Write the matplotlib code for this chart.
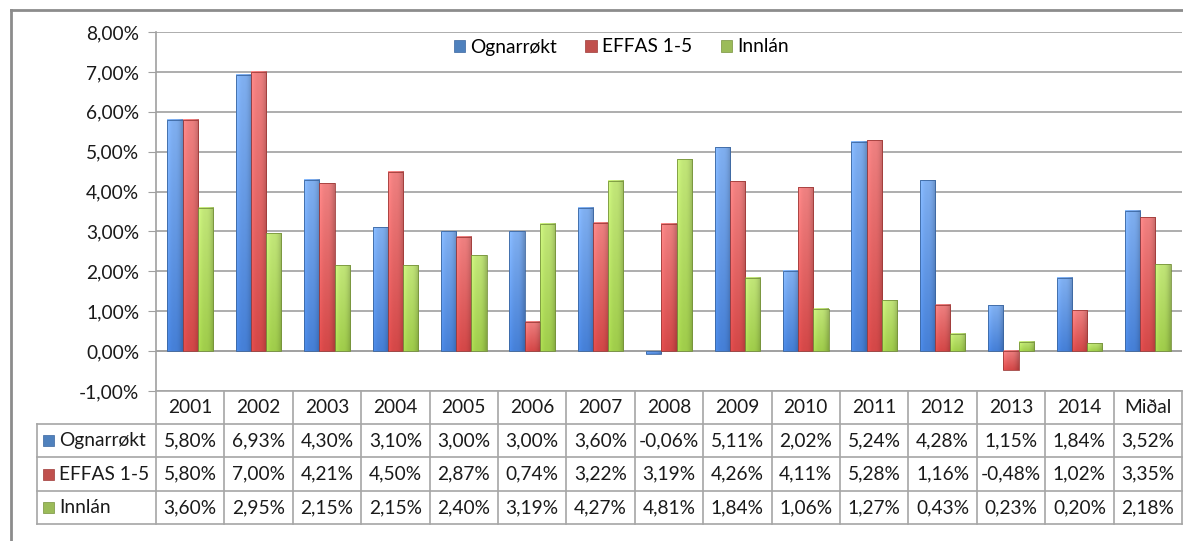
import numpy as np
import matplotlib.pyplot as plt
from matplotlib.lines import Line2D
from matplotlib.patches import Patch, Rectangle
from matplotlib.ticker import FuncFormatter
from matplotlib.transforms import blended_transform_factory

plt.rcParams['font.family'] = ['Lato', 'DejaVu Sans']

categories = ['2001', '2002', '2003', '2004', '2005', '2006', '2007', '2008',
              '2009', '2010', '2011', '2012', '2013', '2014', 'Miðal']
series_names = ['Ognarrøkt', 'EFFAS 1-5', 'Innlán']
ognarrokt = [5.80, 6.93, 4.30, 3.10, 3.00, 3.00, 3.60, -0.06, 5.11, 2.02, 5.24, 4.28, 1.15, 1.84, 3.52]
effas = [5.80, 7.00, 4.21, 4.50, 2.87, 0.74, 3.22, 3.19, 4.26, 4.11, 5.28, 1.16, -0.48, 1.02, 3.35]
innlan = [3.60, 2.95, 2.15, 2.15, 2.40, 3.19, 4.27, 4.81, 1.84, 1.06, 1.27, 0.43, 0.23, 0.20, 2.18]
yticks = [-1, 0, 1, 2, 3, 4, 5, 6, 7, 8]

# base, light (top) and edge colours per series
base_cols = [np.array([70, 128, 215]), np.array([212, 72, 72]), np.array([160, 205, 75])]
light_cols = [np.array([165, 205, 255]), np.array([255, 165, 165]), np.array([215, 245, 150])]
edge_cols = ['#3a659f', '#9e3a38', '#76923c']
key_cols = ['#4f81bd', '#c0504d', '#9bbb59']
FS = 13.8


def fmt_pct(v):
    return f"{v:.2f}%".replace('.', ',')


def gradient(base, light, n=24):
    t = np.linspace(1, 0, n)[:, None]          # top -> bottom
    vert = light[None, None, :] * t[..., None] * 0.6 + base[None, None, :] * (1 - t[..., None] * 0.6)
    h = np.linspace(-1, 1, 12)
    shade = 1.0 - 0.18 * np.clip(h, 0, None) ** 2 + 0.10 * np.clip(-h, 0, None) ** 2
    img = vert * shade[None, :, None]
    return np.clip(img / 255.0, 0, 1)


fig = plt.figure(figsize=(11.83, 5.41), dpi=100)
ax = fig.add_axes([156 / 1183, 150 / 541, 1026 / 1183, 359 / 541])

n = len(categories)
x = np.arange(n)
w = 1 / 4.5
for i, vals in enumerate([ognarrokt, effas, innlan]):
    offs = (i - 1) * w
    img = gradient(base_cols[i], light_cols[i])
    for xi, v in zip(x + offs, vals):
        y0, y1 = (0, v) if v >= 0 else (v, 0)
        ax.imshow(img, extent=[xi - w / 2, xi + w / 2, y0, y1], aspect='auto',
                  interpolation='bilinear', zorder=3)
    ax.bar(x + offs, vals, width=w, facecolor='none', edgecolor=edge_cols[i],
           linewidth=0.6, zorder=4)

ax.set_xlim(-0.5, n - 0.5)
ax.set_ylim(-1, 8)
ax.set_yticks(yticks)
ax.yaxis.set_major_formatter(FuncFormatter(lambda v, p: fmt_pct(v)))
ax.set_xticks([])
ax.grid(axis='y', color='#a0a0a0', linewidth=1.2, zorder=0)
ax.axhline(0, color='#a0a0a0', linewidth=1.2, zorder=1)
for s in ['top', 'right', 'bottom']:
    ax.spines[s].set_visible(False)
ax.spines['left'].set_color('#a0a0a0')
ax.spines['left'].set_linewidth(1.2)
ax.tick_params(axis='y', length=6, color='#a0a0a0', labelsize=FS, labelcolor='#1a1a1a', pad=6)

# legend
handles = [Patch(facecolor=c, edgecolor=e, linewidth=0.5) for c, e in zip(key_cols, edge_cols)]
fig.legend(handles, series_names, loc='center', bbox_to_anchor=(621 / 1183, 1 - 47 / 541),
           ncol=3, frameon=False, fontsize=FS, handlelength=0.6, handleheight=0.6,
           handletextpad=0.25, columnspacing=1.5)

# data table
tr = blended_transform_factory(ax.transData, fig.transFigure)
gc = '#a6a6a6'
row_y = [1 - v / 541 for v in [391, 424, 457, 491, 524]]
x_left = -0.5
x_lab = -0.5 - (156 - 37) / (1026 / n)
for k in range(n + 1):
    fig.add_artist(Line2D([x_left + k, x_left + k], [row_y[0], row_y[-1]], transform=tr,
                          color=gc, linewidth=1.2))
fig.add_artist(Line2D([x_lab, x_lab], [row_y[1], row_y[-1]], transform=tr, color=gc, linewidth=1.2))
for j, yy in enumerate(row_y):
    xs = x_left if j == 0 else x_lab
    fig.add_artist(Line2D([xs, n - 0.5], [yy, yy], transform=tr, color=gc, linewidth=1.2))

for k, c in enumerate(categories):
    fig.text(k, (row_y[0] + row_y[1]) / 2, c, transform=tr, ha='center', va='center',
             fontsize=FS, color='#1a1a1a')
for i, vals in enumerate([ognarrokt, effas, innlan]):
    yc = (row_y[i + 1] + row_y[i + 2]) / 2
    for k, v in enumerate(vals):
        fig.text(k, yc, fmt_pct(v), transform=tr, ha='center', va='center',
                 fontsize=FS, color='#1a1a1a')
    kx = 43 / 1183
    fig.add_artist(Rectangle((kx, yc - 5.5 / 541), 11 / 1183, 11 / 541, transform=fig.transFigure,
                             facecolor=key_cols[i], edgecolor=edge_cols[i], linewidth=0.5))
    fig.text(59 / 1183, yc, series_names[i], ha='left', va='center', fontsize=FS, color='#1a1a1a')

# outer chart border
bc = '#8c8c8c'
fig.add_artist(Line2D([11 / 1183, 11 / 1183], [0, 1 - 10 / 541], transform=fig.transFigure,
                      color=bc, linewidth=2))
fig.add_artist(Line2D([11 / 1183, 1], [1 - 10 / 541, 1 - 10 / 541], transform=fig.transFigure,
                      color=bc, linewidth=2))

fig.savefig('out.png', dpi=100)
